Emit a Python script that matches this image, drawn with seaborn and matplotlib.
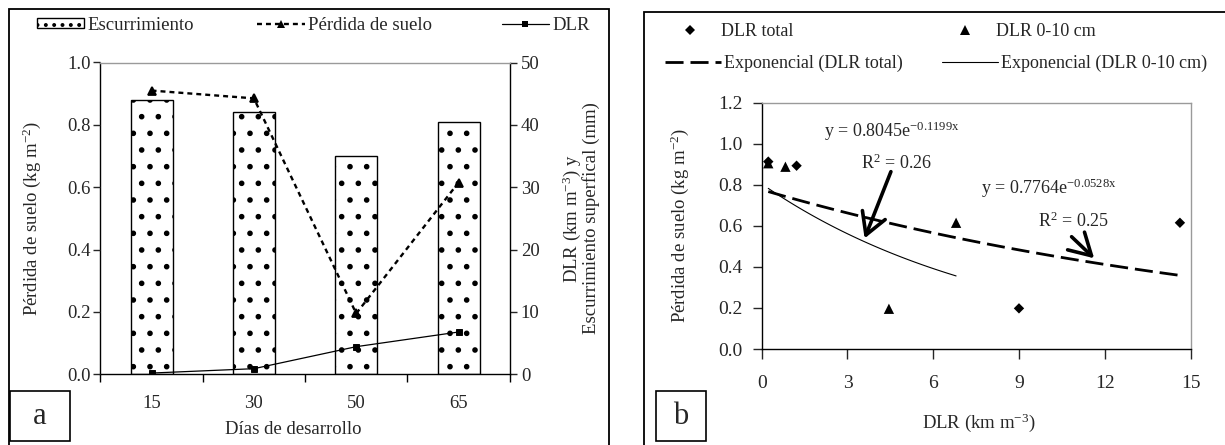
import numpy as np
import pandas as pd
import matplotlib
matplotlib.use("Agg")
import matplotlib.pyplot as plt
from matplotlib.patches import Patch, Rectangle
from matplotlib.lines import Line2D
import seaborn as sns

# ---------------- data: panel a ----------------
dias = ["15", "30", "50", "65"]
escurrimiento = [44.0, 42.0, 35.0, 40.5]        # mm (right axis)
perdida_suelo = [0.91, 0.885, 0.195, 0.615]     # kg m-2 (left axis)
dlr_a = [0.2, 0.9, 4.43, 6.78]                  # km m-3 (right axis)

# ---------------- data: panel b ----------------
dlr_total = [0.23, 1.22, 9.0, 14.63]
perdida_total = [0.913, 0.893, 0.198, 0.615]
dlr_010 = [0.23, 0.83, 4.45, 6.8]
perdida_010 = [0.905, 0.888, 0.196, 0.615]
# exponential trend-line coefficients printed on the chart (y = a * e^(b x))
coef_total = (0.7764, -0.0528)
coef_010 = (0.8045, -0.1199)

# ---------------- style ----------------
sns.set_style("ticks")
plt.rcParams["font.family"] = ["Liberation Serif", "DejaVu Serif"]
plt.rcParams["mathtext.fontset"] = "custom"
plt.rcParams["mathtext.rm"] = "Liberation Serif"
plt.rcParams["mathtext.it"] = "Liberation Serif:italic"
plt.rcParams["mathtext.bf"] = "Liberation Serif:bold"
plt.rcParams["hatch.linewidth"] = 1.6
plt.rcParams["hatch.color"] = "black"

W, H = 1225, 445
fig = plt.figure(figsize=(W / 100, H / 100), dpi=100)
fig.patch.set_facecolor("white")

def fx(px):
    return px / W

def fy(py):
    return 1 - py / H

GREY = "#9a9a9a"
FS_TICK_A = 13.5
FS_TICK_B = 14
FS_LAB = 13.5
FS_LEG = 13.5
FS_B = 13

# ================= panel a =================
axR = fig.add_axes([fx(100.4), fy(374.3), fx(509.7) - fx(100.4), fy(62.5) - fy(374.3)])
sns.barplot(x=dias, y=escurrimiento, ax=axR, color="white", saturation=1,
            edgecolor="black", linewidth=1.0, hatch=".", width=0.41, errorbar=None)
sns.pointplot(x=dias, y=dlr_a, ax=axR, color="black", markers="s", linestyles="-",
              linewidth=0.9, markersize=4.5, errorbar=None)
axR.set_ylim(0, 50)

axL = axR.twinx()
sns.pointplot(x=dias, y=perdida_suelo, ax=axL, color="black", markers="^",
              linestyles="--", linewidth=1.7, markersize=6, errorbar=None)
for ln in axL.lines:
    ln.set_linestyle((0, (2.1, 1.7)))
axL.set_ylim(0, 1.0)

# swap sides: primary (bars) on the right, twin (soil loss) on the left
axR.yaxis.tick_right()
axR.yaxis.set_label_position("right")
axL.yaxis.tick_left()
axL.yaxis.set_label_position("left")

axR.set_xlim(-0.5, 3.5)
axR.set_xticks(range(len(dias)))
axR.set_xticklabels(dias)
axR.set_xticks(np.arange(-0.5, len(dias), 1.0), minor=True)
axR.tick_params(axis="x", which="major", length=0, pad=15, labelsize=FS_TICK_A)
axR.tick_params(axis="x", which="minor", length=6, width=1, direction="out", color="black")
axR.set_yticks(np.arange(0, 51, 10))
axR.tick_params(axis="y", which="major", length=5, width=1, direction="out",
                pad=3, labelsize=FS_TICK_A, right=True, left=False, labelright=True, labelleft=False)
axL.set_yticks(np.arange(0, 1.01, 0.2))
axL.set_yticklabels([f"{v:.1f}" for v in np.arange(0, 1.01, 0.2)])
axL.tick_params(axis="y", which="major", length=5, width=1, direction="out",
                pad=2, labelsize=FS_TICK_A, left=True, right=False, labelleft=True, labelright=False)

for s in ["left", "bottom", "right"]:
    axR.spines[s].set_color("black")
    axR.spines[s].set_linewidth(1.0)
axR.spines["top"].set_color(GREY)
axR.spines["top"].set_linewidth(1.0)
for s in axL.spines.values():
    s.set_visible(False)

axR.set_xlabel("Días de desarrollo", fontsize=FS_LAB)
axR.xaxis.set_label_coords(0.47, -0.15)
axL.set_ylabel("Pérdida de suelo (kg m$^{-2}$)", fontsize=FS_LAB)
axL.yaxis.set_label_coords(-0.14, 0.5)
axR.set_ylabel("DLR (km m$^{-3}$) y\nEscurrimiento superfical (mm)", fontsize=FS_LAB,
               linespacing=0.9)
axR.yaxis.set_label_coords(1.125, 0.5)

# legend panel a (three entries spread across the top)
h_bar = Patch(facecolor="white", edgecolor="black", hatch="..", linewidth=1.0)
h_per = Line2D([], [], color="black", linestyle=(0, (2.1, 1.7)), linewidth=1.7,
               marker="^", markersize=6, markeredgewidth=0)
h_dlr = Line2D([], [], color="black", linestyle="-", linewidth=0.9,
               marker="s", markersize=4.5, markeredgewidth=0)
for h, lab, xpx, hl in [(h_bar, "Escurrimiento", 37, 2.5),
                        (h_per, "Pérdida de suelo", 257, 2.57),
                        (h_dlr, "DLR", 502, 2.5)]:
    fig.legend(handles=[h], labels=[lab], loc="center left",
               bbox_to_anchor=(fx(xpx), fy(25)), frameon=False, borderpad=0,
               borderaxespad=0, handlelength=hl, handleheight=0.45,
               handletextpad=0.17, fontsize=FS_LEG)

# ================= panel b =================
axB = fig.add_axes([fx(761.7), fy(349), fx(1190.5) - fx(761.7), fy(102.7) - fy(349)])
sns.scatterplot(x=dlr_total, y=perdida_total, ax=axB, marker="D", s=28,
                color="black", edgecolor="none", zorder=3)
sns.scatterplot(x=dlr_010, y=perdida_010, ax=axB, marker="^", s=55,
                color="black", edgecolor="none", zorder=3)

xt = np.linspace(min(dlr_total), max(dlr_total), 60)
trend_total = pd.DataFrame({"x": xt, "y": coef_total[0] * np.exp(coef_total[1] * xt)})
x1 = np.linspace(min(dlr_010), max(dlr_010), 60)
trend_010 = pd.DataFrame({"x": x1, "y": coef_010[0] * np.exp(coef_010[1] * x1)})
sns.lineplot(data=trend_total, x="x", y="y", ax=axB, color="black", linewidth=2.0,
             linestyle=(0, (6.5, 2.5)))
sns.lineplot(data=trend_010, x="x", y="y", ax=axB, color="black", linewidth=0.8)

axB.set_xlim(0, 15)
axB.set_ylim(0, 1.2)
axB.set_xticks(np.arange(0, 16, 3))
axB.set_yticks(np.arange(0, 1.21, 0.2))
axB.set_yticklabels([f"{v:.1f}" for v in np.arange(0, 1.21, 0.2)])
axB.tick_params(axis="x", length=7, width=1, direction="out", pad=12, labelsize=FS_TICK_B)
axB.tick_params(axis="y", length=6.5, width=1, direction="out", pad=7, labelsize=FS_TICK_B)
for s in ["left", "bottom"]:
    axB.spines[s].set_color("black")
    axB.spines[s].set_linewidth(1.0)
for s in ["top", "right"]:
    axB.spines[s].set_color(GREY)
    axB.spines[s].set_linewidth(1.0)

axB.set_xlabel("DLR (km m$^{-3}$)", fontsize=FS_LAB)
axB.xaxis.set_label_coords(0.507, -0.255)
axB.set_ylabel("Pérdida de suelo (kg m$^{-2}$)", fontsize=FS_LAB)
axB.yaxis.set_label_coords(-0.165, 0.5)

# equations and arrows
axB.text(2.18, 1.06, "y = 0.8045e$^{\\mathrm{-0.1199x}}$", fontsize=FS_B, va="center", ha="left")
axB.text(3.49, 0.905, "R$^{2}$ = 0.26", fontsize=FS_B, va="center", ha="left")
axB.text(7.68, 0.783, "y = 0.7764e$^{\\mathrm{-0.0528x}}$", fontsize=FS_B, va="center", ha="left")
axB.text(9.68, 0.62, "R$^{2}$ = 0.25", fontsize=FS_B, va="center", ha="left")
arrow_kw = dict(arrowstyle="->,head_length=0.7,head_width=0.4", lw=2.6, color="black",
                mutation_scale=22, shrinkA=0, shrinkB=0)
axB.annotate("", xy=(3.6, 0.539), xytext=(4.52, 0.864), arrowprops=arrow_kw)
axB.annotate("", xy=(11.63, 0.442), xytext=(10.84, 0.547), arrowprops=arrow_kw)

# legend panel b
h_tot = Line2D([], [], color="black", linestyle="none", marker="D", markersize=5,
               markeredgewidth=0)
h_010 = Line2D([], [], color="black", linestyle="none", marker="^", markersize=7.5,
               markeredgewidth=0)
h_etot = Line2D([], [], color="black", linestyle=(0, (6.5, 2.5)), linewidth=2.0)
h_e010 = Line2D([], [], color="black", linestyle="-", linewidth=0.8)
for h, lab, xpx, ypx in [(h_tot, "DLR total", 662, 31.7),
                         (h_010, "DLR 0-10 cm", 937, 31.7),
                         (h_etot, "Exponencial (DLR total)", 665, 63.3),
                         (h_e010, "Exponencial (DLR 0-10 cm)", 942, 63.3)]:
    fig.legend(handles=[h], labels=[lab], loc="center left",
               bbox_to_anchor=(fx(xpx), fy(ypx)), frameon=False, borderpad=0,
               borderaxespad=0, handlelength=3.1, handletextpad=0.15,
               fontsize=FS_B)

# ================= frames and panel letters =================
fig.add_artist(Rectangle((fx(8.6), fy(446)), fx(609) - fx(8.6), fy(9.3) - fy(446),
                         transform=fig.transFigure, fill=False, ec="black", lw=1.3))
fig.add_artist(Rectangle((fx(644), fy(446)), fx(1230) - fx(644), fy(11.7) - fy(446),
                         transform=fig.transFigure, fill=False, ec="black", lw=1.3))
for (x0, x1p, lab) in [(9.7, 70, "a"), (656, 706, "b")]:
    fig.add_artist(Rectangle((fx(x0), fy(441)), fx(x1p) - fx(x0), fy(391) - fy(441),
                             transform=fig.transFigure, fill=False, ec="black", lw=1.2))
    fig.text(fx((x0 + x1p) / 2), fy(416), lab, fontsize=22, ha="center", va="center")

fig.savefig("out.png", dpi=100, facecolor="white")
